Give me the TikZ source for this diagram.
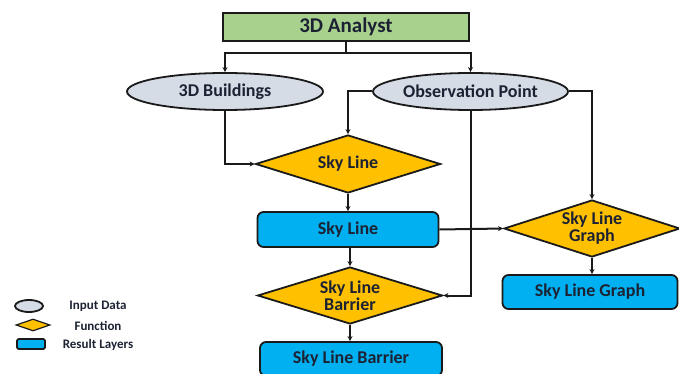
\documentclass[tikz,border=0pt]{standalone}
\usepackage{fontspec}
\setmainfont{Carlito}
\usetikzlibrary{shapes.geometric,arrows.meta}
\definecolor{tgreen}{HTML}{A9D18E}
\definecolor{tgray}{HTML}{D6DCE5}
\definecolor{torange}{HTML}{FFC000}
\definecolor{tblue}{HTML}{00B0F0}
\definecolor{tline}{HTML}{1A1A1A}
\definecolor{ttext}{HTML}{1C2233}
\begin{document}
\begin{tikzpicture}[x=1pt,y=-1pt,
  base/.style={draw=tline,line width=1.8pt,text=ttext,inner sep=0pt,align=center,
    font=\fontsize{18}{17}\selectfont\bfseries},
  titlebox/.style={base,fill=tgreen,minimum width=246pt,minimum height=28pt,
    font=\fontsize{21}{24}\selectfont\bfseries},
  inputell/.style={base,ellipse,fill=tgray,minimum width=196pt,minimum height=37pt},
  funcdia/.style={base,diamond,shape aspect=3.2,fill=torange,minimum width=185pt,minimum height=58pt},
  resbox/.style={base,fill=tblue,rounded corners=6pt,minimum width=181pt,minimum height=35pt},
  conn/.style={draw=tline,line width=2pt,-{Stealth[length=5pt,width=5pt]}},
  legtext/.style={text=ttext,font=\fontsize{13}{15}\selectfont\bfseries}
]
\useasboundingbox (0,0) rectangle (679,374);

\node[titlebox] (title) at (346,27) {3D Analyst};
\node[inputell] (bld) at (225,91.5) {3D Buildings};
\node[inputell,minimum width=195pt] (obs) at (470.5,91.5) {Observation Point};
\node[funcdia] (sl1) at (348,164) {Sky Line};
\node[resbox] (slr) at (348,229.5) {Sky Line};
\node[funcdia,minimum width=176pt,minimum height=57pt] (gd) at (592,228.5) {Sky Line\\Graph};
\node[resbox,minimum width=175pt,minimum height=34pt] (gr) at (590,292) {Sky Line Graph};
\node[funcdia,minimum height=57pt] (bar) at (350,295.5) {Sky Line\\Barrier};
\node[resbox,minimum width=182pt,minimum height=34pt] (barr) at (351,359) {Sky Line Barrier};

\coordinate (split) at (346,53);
\draw[line width=2pt,draw=tline] (title.south) -- (split);
\draw[conn] (split) -| (bld.north);
\draw[conn] (split) -| (obs.north);
\draw[conn] (bld.south) |- (sl1.west);
\draw[conn] (obs.west) -| (sl1.north);
\draw[conn] (obs.south) |- (bar.east);
\draw[conn] (obs.east) -| (gd.north);
\draw[conn] (sl1.south) -- (slr.north);
\draw[conn] (slr.east) -- (gd.west);
\draw[conn] (slr.south -| bar.north) -- (bar.north);
\draw[conn] (bar.south) -- (barr.north -| bar.south);
\draw[conn] (gd.south) -- (gd.south |- gr.north);

% legend
\node[draw=tline,line width=1.8pt,ellipse,fill=tgray,minimum width=28pt,minimum height=12pt,inner sep=0pt] (lell) at (29,306) {};
\node[draw=tline,line width=1.2pt,diamond,shape aspect=2.8,fill=torange,minimum width=34pt,minimum height=12pt,inner sep=0pt] (ldia) at (33,325) {};
\node[draw=tline,line width=1.8pt,fill=tblue,rounded corners=2pt,minimum width=28pt,minimum height=10pt,inner sep=0pt] (lrect) at (31,344) {};
\node[legtext] (lt1) at (98,306) {Input Data};
\node[legtext] (lt2) at (98,325.5) {Function};
\node[legtext] (lt3) at (98,345) {Result Layers};
\end{tikzpicture}
\end{document}
